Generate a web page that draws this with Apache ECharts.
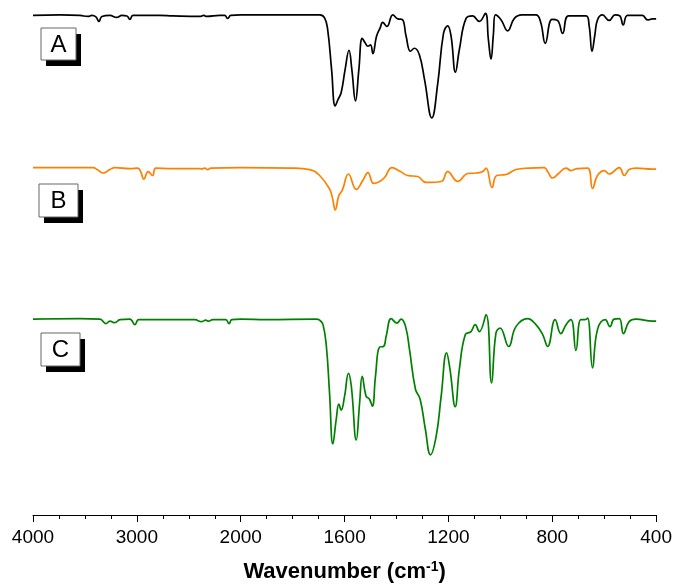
<!DOCTYPE html>
<html>
<head>
<meta charset="utf-8">
<title>FTIR spectra</title>
<script src="https://cdn.jsdelivr.net/npm/echarts@6/dist/echarts.min.js"></script>
<style>
  html, body { margin: 0; padding: 0; background: #fff; }
  #chart { width: 675px; height: 588px; }
</style>
</head>
<body>
<div id="chart"></div>
<script>
// wavenumbers (cm-1) and offset transmittance
const waveA = [4000, 3740, 3548, 3471, 3433, 3394, 3365, 3337, 3260, 3195, 3144, 3096, 3067, 3038, 2779, 2654, 2394, 2356, 2327, 2202,
  2154, 2125, 2096, 2000, 1773, 1696, 1677, 1665, 1650, 1636, 1625, 1613, 1598, 1583, 1572, 1558, 1545, 1532, 1521, 1510,
  1500, 1491, 1477, 1463, 1453, 1437, 1414, 1395, 1378, 1363, 1346, 1331, 1312, 1292, 1264, 1241, 1219, 1203, 1190, 1173,
  1158, 1132, 1107, 1081, 1058, 1046, 1036, 1027, 1019, 997, 972, 946, 917, 863, 845, 827, 801, 780, 760, 737,
  670, 658, 647, 636, 626, 607, 581, 558, 540, 527, 510, 453, 433, 414, 400]
const transA = [100.5, 100.6, 100.5, 100.3, 100.5, 100.2, 99.3, 100.3, 100.5, 100.1, 100.5, 100.4, 99.7, 100.5, 100.5, 100.4, 100.3, 100.5, 100.3, 100.5,
  100.5, 99.9, 100.5, 100.6, 100.6, 100.6, 100.0, 97.6, 89.6, 82.3, 83.6, 85.0, 89.6, 93.5, 89.6, 83.3, 89.6, 95.9, 95.0, 94.3,
  94.6, 92.8, 96.3, 98.0, 99.1, 98.3, 100.6, 99.8, 99.7, 96.3, 93.3, 93.9, 92.6, 87.6, 79.9, 86.9, 96.9, 98.4, 96.4, 89.1,
  93.6, 99.9, 100.4, 99.3, 100.9, 95.6, 91.7, 96.6, 100.6, 99.6, 97.4, 99.9, 100.6, 100.6, 99.2, 94.9, 99.7, 99.5, 96.9, 100.4,
  100.4, 98.4, 93.3, 96.6, 99.6, 100.6, 99.5, 100.6, 100.4, 98.6, 100.5, 100.5, 99.6, 99.8, 99.8]

const waveB = [4000, 3740, 3423, 3375, 3324, 3260, 3212, 3067, 2990, 2962, 2933, 2891, 2849, 2817, 2666, 2394, 2375, 2346, 2317, 2289,
  2000, 1800, 1735, 1696, 1658, 1646, 1636, 1622, 1609, 1585, 1555, 1530, 1510, 1488, 1465, 1446, 1417, 1388, 1357, 1318,
  1286, 1228, 1203, 1164, 1126, 1094, 1068, 1055, 1032, 1014, 978, 940, 889, 831, 818, 799, 776, 747, 728, 703,
  664, 645, 626, 600, 581, 542, 523, 504, 478, 414, 400]
const transB = [69.9, 69.9, 69.9, 69.4, 68.8, 69.5, 69.9, 69.7, 69.8, 69.0, 67.6, 69.1, 68.3, 69.8, 69.7, 69.7, 69.6, 69.8, 69.5, 69.8,
  69.9, 69.8, 69.5, 68.3, 65.6, 63.6, 61.4, 64.3, 65.3, 68.6, 65.5, 67.3, 68.9, 66.7, 67.1, 67.9, 69.9, 69.2, 68.3, 68.1,
  66.9, 67.1, 69.1, 67.1, 68.7, 68.8, 69.1, 69.8, 65.9, 68.3, 68.5, 69.5, 69.8, 69.9, 69.1, 67.8, 68.7, 69.8, 69.3, 69.7,
  69.8, 65.7, 68.3, 69.3, 68.6, 69.9, 68.3, 69.5, 69.8, 69.6, 69.6]

const waveC = [4000, 3548, 3356, 3298, 3260, 3212, 3163, 3067, 3019, 2981, 2442, 2378, 2337, 2308, 2269, 2144, 2112, 2086, 2000, 1900,
  1709, 1696, 1683, 1670, 1658, 1645, 1632, 1622, 1613, 1600, 1585, 1574, 1555, 1542, 1532, 1517, 1504, 1493, 1481, 1465,
  1450, 1440, 1420, 1399, 1382, 1365, 1350, 1327, 1309, 1289, 1269, 1247, 1228, 1207, 1194, 1174, 1158, 1135, 1113, 1097,
  1081, 1055, 1034, 1017, 1001, 968, 940, 895, 863, 837, 818, 789, 767, 747, 728, 709, 690, 673, 664, 645,
  626, 596, 578, 562, 542, 526, 504, 478, 414, 400]
const transC = [39.4, 39.5, 39.4, 38.5, 39.0, 38.7, 39.3, 39.4, 38.3, 39.3, 39.3, 38.9, 39.2, 39.0, 39.3, 39.3, 38.5, 39.3, 39.4, 39.3,
  39.4, 39.2, 38.3, 33.9, 24.6, 14.3, 19.3, 22.3, 21.1, 23.9, 28.5, 25.9, 15.1, 22.6, 27.9, 23.9, 23.3, 21.9, 27.9, 33.8,
  33.9, 35.9, 39.5, 38.6, 39.4, 37.9, 33.3, 25.3, 23.3, 17.3, 12.1, 15.9, 23.9, 32.6, 29.3, 21.8, 29.3, 36.3, 36.9, 38.3,
  36.9, 40.3, 26.6, 36.6, 37.6, 33.9, 37.9, 39.5, 38.3, 36.3, 33.9, 39.3, 36.5, 38.3, 39.3, 33.1, 39.3, 39.3, 39.6, 29.6,
  37.3, 39.3, 37.9, 39.4, 39.5, 36.5, 38.9, 39.4, 39.0, 39.0]

const tickLabels = [4000, 3000, 2000, 1600, 1200, 800, 400]

// the axis changes scale at 2000 cm-1: 250 per step above, 100 per step below
function toAxis(w) {
  return w >= 2000 ? (4000 - w) / 250 : 8 + (2000 - w) / 100
}

function pairs(waves, vals) {
  return waves.map((w, i) => [toAxis(w), vals[i]])
}

function tag(letter, x, y, w, h) {
  return {
    type: 'group',
    x: x,
    y: y,
    children: [
      { type: 'rect', shape: { x: 5, y: 6, width: w, height: h }, style: { fill: '#000' } },
      { type: 'rect', shape: { x: 0, y: 0, width: w, height: h }, style: { fill: '#fff', stroke: '#666', lineWidth: 1 } },
      {
        type: 'text',
        style: {
          text: letter, x: w / 2, y: h / 2 + 1, align: 'center', verticalAlign: 'middle',
          fontSize: 24, fontFamily: 'Liberation Sans, Arial, sans-serif', fill: '#000'
        }
      }
    ]
  }
}

const chart = echarts.init(document.getElementById('chart'))
chart.setOption({
  backgroundColor: '#fff',
  animation: false,
  grid: {
    left: 33,
    right: 18,
    top: 8,
    bottom: 70
  },
  xAxis: {
    type: 'value',
    min: 0,
    max: 24,
    interval: 4,
    name: 'Wavenumber (cm{sup|-1})',
    nameLocation: 'middle',
    nameGap: 45,
    nameTextStyle: {
      color: '#000',
      fontSize: 22,
      fontWeight: 'bold',
      fontFamily: 'Liberation Sans, Arial, sans-serif',
      rich: {
        sup: {
          fontSize: 14,
          fontWeight: 'bold',
          fontFamily: 'Liberation Sans, Arial, sans-serif',
          color: '#000',
          verticalAlign: 'top',
          padding: [0, 0, 10, 0]
        }
      }
    },
    axisLine: { lineStyle: { color: '#000', width: 1 } },
    axisTick: { length: 7, lineStyle: { color: '#000' } },
    minorTick: { show: true, splitNumber: 4, length: 4, lineStyle: { color: '#000' } },
    splitLine: { show: false },
    axisLabel: {
      color: '#000',
      fontSize: 19,
      fontFamily: 'Liberation Sans, Arial, sans-serif',
      margin: 13,
      showMinLabel: true,
      showMaxLabel: true,
      formatter(v) {
        return String(tickLabels[Math.round(v / 4)])
      }
    }
  },
  yAxis: {
    type: 'value',
    min: 0,
    max: 102,
    show: false
  },
  series: [{
    name: 'A',
    type: 'line',
    showSymbol: false,
    smooth: 0.45,
    lineStyle: { color: '#000', width: 1.7 },
    data: pairs(waveA, transA)
  }, {
    name: 'B',
    type: 'line',
    showSymbol: false,
    smooth: 0.45,
    lineStyle: { color: '#ff8000', width: 1.7 },
    data: pairs(waveB, transB)
  }, {
    name: 'C',
    type: 'line',
    showSymbol: false,
    smooth: 0.45,
    lineStyle: { color: '#008000', width: 1.7 },
    data: pairs(waveC, transC)
  }],
  graphic: [
    tag('A', 41, 28, 35, 32),
    tag('B', 39, 184, 39, 33),
    tag('C', 41, 333, 39, 33)
  ]
})
</script>
</body>
</html>
